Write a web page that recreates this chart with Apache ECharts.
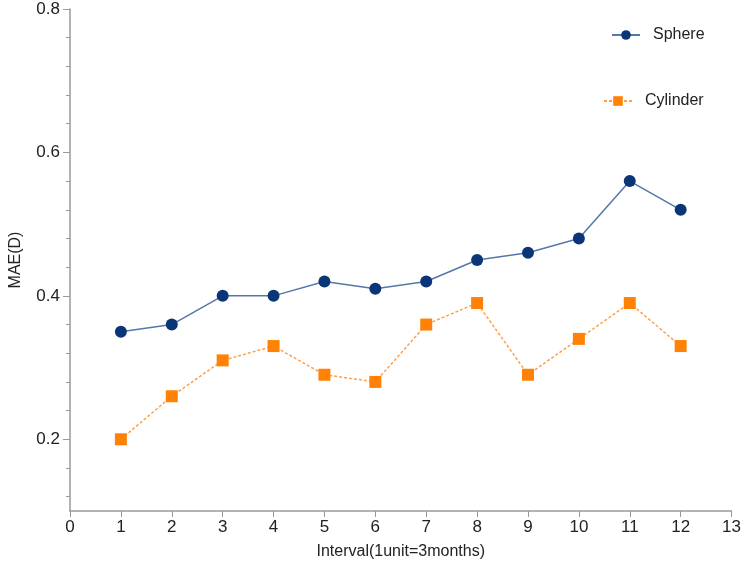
<!DOCTYPE html>
<html>
<head>
<meta charset="utf-8">
<script src="https://cdn.jsdelivr.net/npm/echarts@6/dist/echarts.min.js"></script>
<style>
  html, body { margin: 0; padding: 0; background: #fff; }
  #main { width: 744px; height: 571px; }
</style>
</head>
<body>
<div id="main"></div>
<script>
// 数据
var intervals = [1, 2, 3, 4, 5, 6, 7, 8, 9, 10, 11, 12];
var sphere = [0.35, 0.36, 0.40, 0.40, 0.42, 0.41, 0.42, 0.45, 0.46, 0.48, 0.56, 0.52];
var cylinder = [0.20, 0.26, 0.31, 0.33, 0.29, 0.28, 0.36, 0.39, 0.29, 0.34, 0.39, 0.33];
var yMajor = [0.2, 0.4, 0.6, 0.8];
var yMinor = [0.12, 0.16, 0.24, 0.28, 0.32, 0.36, 0.44, 0.48, 0.52, 0.56, 0.64, 0.68, 0.72, 0.76];

var chart = echarts.init(document.getElementById('main'));

function pairs(vals) {
  return intervals.map(function (x, i) { return [x, vals[i]]; });
}

var font = 'Liberation Sans, Arial, sans-serif';
var axisColor = '#9a9a9a';

var option = {
  animation: false,
  textStyle: { fontFamily: font },
  grid: { left: 68, right: 11, top: 9, bottom: 60, containLabel: false },
  legend: [
    {
      data: ['Sphere'],
      left: 606, top: 22,
      itemWidth: 28, itemHeight: 12,
      textStyle: { fontSize: 16, color: '#222', fontFamily: font, padding: [0, 0, 0, 8] }
    },
    {
      data: ['Cylinder'],
      left: 598, top: 88,
      itemWidth: 28, itemHeight: 12,
      textStyle: { fontSize: 16, color: '#222', fontFamily: font, padding: [0, 0, 0, 8] }
    }
  ],
  xAxis: {
    type: 'value',
    min: 0, max: 13, interval: 1,
    name: 'Interval(1unit=3months)',
    nameLocation: 'middle',
    nameGap: 33,
    nameTextStyle: { fontSize: 16, color: '#222' },
    axisLine: { lineStyle: { color: axisColor, width: 1.5 } },
    axisTick: { show: true, length: 6, lineStyle: { color: axisColor } },
    axisLabel: { fontSize: 17, color: '#222', margin: 8 },
    splitLine: { show: false }
  },
  yAxis: [
    {
      type: 'value',
      min: 0.1, max: 0.8,
      name: 'MAE(D)',
      nameLocation: 'middle',
      nameGap: 46,
      nameTextStyle: { fontSize: 16, color: '#222' },
      axisLine: { show: true, lineStyle: { color: axisColor, width: 1.5 } },
      axisTick: { show: true, length: 7, lineStyle: { color: axisColor }, customValues: yMajor },
      axisLabel: {
        fontSize: 17, color: '#222', margin: 10,
        customValues: yMajor,
        formatter: function (v) { return v.toFixed(1); }
      },
      splitLine: { show: false }
    },
    {
      type: 'value',
      position: 'left',
      min: 0.1, max: 0.8,
      axisLine: { show: false },
      axisTick: { show: true, length: 4, lineStyle: { color: axisColor }, customValues: yMinor },
      axisLabel: { show: false },
      splitLine: { show: false }
    }
  ],
  series: [
    {
      name: 'Sphere',
      type: 'line',
      data: pairs(sphere),
      symbol: 'circle',
      symbolSize: 12,
      itemStyle: { color: '#0a3677' },
      lineStyle: { color: '#5577aa', width: 1.5 }
    },
    {
      name: 'Cylinder',
      type: 'line',
      data: pairs(cylinder),
      symbol: 'rect',
      symbolSize: 12,
      itemStyle: { color: '#ff8206' },
      lineStyle: { color: '#ffa04a', width: 1.5, type: [3, 2] }
    }
  ]
};

chart.setOption(option);
</script>
</body>
</html>
